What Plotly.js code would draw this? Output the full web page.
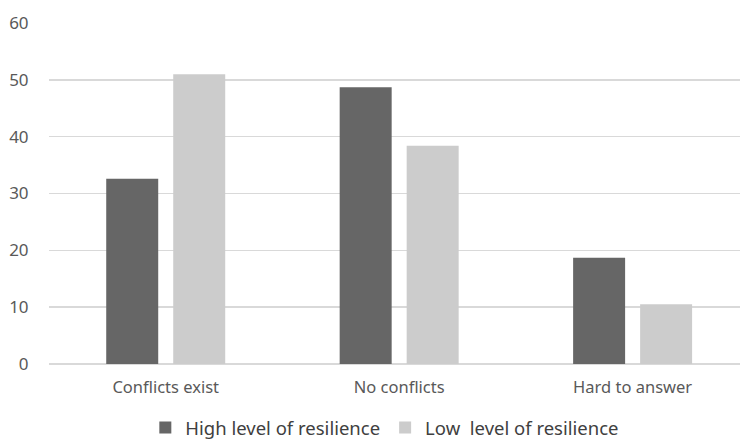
<!DOCTYPE html>
<html><head><meta charset="utf-8">
<script src="https://cdn.plot.ly/plotly-3.0.1.min.js"></script>
<style>html,body{margin:0;padding:0;background:#fff}</style>
</head><body>
<div id="chart" style="width:740px;height:442px"></div>
<script>
const categories = ["Conflicts exist", "No conflicts", "Hard to answer"];
const highResilience = [32.6, 48.7, 18.7];
const lowResilience = [51.0, 38.4, 10.5];
const seriesNames = ["High level of resilience", "Low  level of resilience"];

const data = [
  {type:'bar', x:categories, y:highResilience, name:seriesNames[0], marker:{color:'#666666', line:{width:0}}},
  {type:'bar', x:categories, y:lowResilience, name:seriesNames[1], marker:{color:'#cccccc', line:{width:0}}}
];
const layout = {
  width:740, height:442,
  margin:{l:49, r:0, t:23, b:78, autoexpand:false},
  paper_bgcolor:'#fff', plot_bgcolor:'#fff',
  font:{family:'Noto Sans, sans-serif', size:16.5, color:'#595959'},
  barmode:'group', bargap:0.426, bargroupgap:0.224,
  showlegend:true,
  legend:{orientation:'h', x:0.486, xanchor:'center', xref:'paper', yref:'container', y:0.032, yanchor:'middle', font:{size:18.5, color:'#404040'}, itemwidth:30, traceorder:'normal'},
  xaxis:{type:'category', range:[-0.5, 2.46], showgrid:false, zeroline:false, showline:false, ticks:'outside', ticklen:8, tickcolor:'rgba(0,0,0,0)', fixedrange:true, automargin:false},
  yaxis:{range:[0,60], dtick:10, tick0:0, showgrid:true, gridcolor:'#d9d9d9', gridwidth:1.5, zeroline:true, zerolinecolor:'#d9d9d9', zerolinewidth:1.5, showline:false, ticks:'outside', ticklen:16, tickcolor:'rgba(0,0,0,0)', tickfont:{size:17}, fixedrange:true, automargin:false}
};
Plotly.newPlot('chart', data, layout, {displayModeBar:false, staticPlot:true});
</script>
</body></html>
